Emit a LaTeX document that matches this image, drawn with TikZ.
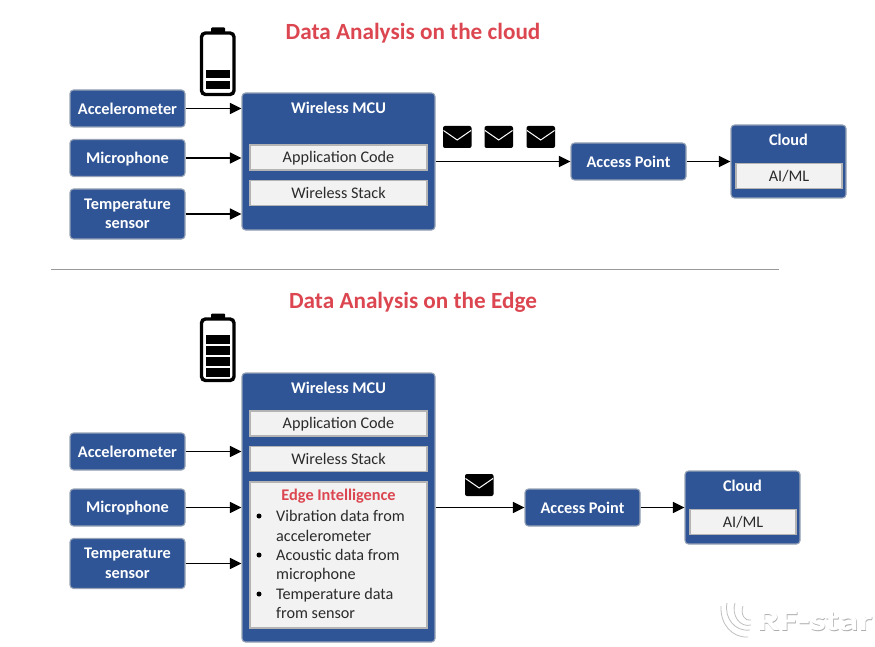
\documentclass[tikz,border=0pt]{standalone}
\usepackage{fontspec}
\setmainfont{Carlito}
\usetikzlibrary{arrows.meta}
\definecolor{boxblue}{HTML}{2F5597}
\definecolor{boxedge}{HTML}{97A3B5}
\definecolor{lightfill}{HTML}{F2F2F2}
\definecolor{lightedge}{HTML}{B4B4B4}
\definecolor{titlered}{HTML}{DC4650}
\definecolor{inktext}{HTML}{2B2B2B}
\newcommand{\lowerit}{\rule{0pt}{13pt}}
\tikzset{
  x=1pt,y=-1pt,
  bluebox/.style={draw=boxedge,line width=1.1pt,fill=boxblue,rounded corners=3.5pt,inner sep=0pt,text=white,font=\fontsize{16.3}{20}\selectfont\bfseries,align=center},
  lightbox/.style={draw=lightedge,line width=1.2pt,fill=lightfill,inner sep=0pt,text=inktext,font=\fontsize{16.2}{20}\selectfont,align=center},
  boxtitle/.style={text=white,font=\fontsize{16.3}{20}\selectfont\bfseries,inner sep=0pt},
  arr/.style={draw=black,line width=1.4pt,-{Triangle[length=11.5pt,width=11pt]}},
  headline/.style={text=titlered,font=\fontsize{23.2}{26}\selectfont\bfseries,inner sep=0pt},
  listline/.style={text=inktext,font=\fontsize{16.2}{20}\selectfont,inner sep=0pt,anchor=west},
  dotmark/.style={circle,fill=black,inner sep=0pt,minimum size=5pt},
}
\newcommand{\envel}[2]{%
  \fill[black,rounded corners=2pt] (#1,#2) rectangle ++(28.5,22);
  \draw[white,line width=1pt] (#1+0.5,#2+4.5) -- (#1+14.2,#2+14) -- (#1+28,#2+4.5);
}
\newcommand{\batt}[1]{%
  \fill[black,rounded corners=1pt] (211,#1-5.5) rectangle (225,#1+2);
  \draw[black,line width=3.4pt,rounded corners=4pt,fill=white] (201.5,#1) rectangle (234,#1+61.5);
}
\begin{document}
\begin{tikzpicture}
\useasboundingbox (0,0) rectangle (875,647);

% top titles
\node[headline] (t1) at (413,33) {Data Analysis on the cloud};
\node[headline] (t2) at (413,302) {Data Analysis on the Edge};
\coordinate (ruleL) at (51,269.5);
\coordinate (ruleR) at (779,269.5);
\draw[color=black!40,line width=1.2pt] (ruleL) -- (ruleR);

% top battery
\batt{33}
\fill[black] (206,70) rectangle (230,78.5);
\fill[black] (206,81) rectangle (230,89.5);

% top diagram
\node[bluebox,minimum width=115,minimum height=37] (acc1) at (127.5,108.5) {Accelerometer};
\node[bluebox,minimum width=115,minimum height=37] (mic1) at (127.5,158) {\lowerit Microphone};
\node[bluebox,minimum width=115,minimum height=50] (tmp1) at (127.5,214) {Temperature\\[-0.5pt]sensor};
\node[bluebox,minimum width=193,minimum height=137] (mcu1) at (338.5,161.5) {};
\node[boxtitle] (mcu1t) at (338.5,107.5) {Wireless MCU};
\node[lightbox,minimum width=177,minimum height=25] (app1) at (338.5,157.5) {\lowerit Application Code};
\node[lightbox,minimum width=177,minimum height=25] (stk1) at (338.5,193) {Wireless Stack};
\node[bluebox,minimum width=115,minimum height=37] (ap1) at (628.5,161.5) {Access Point};
\node[bluebox,minimum width=115,minimum height=73] (cl1) at (788.5,161.5) {};
\node[boxtitle] (cl1t) at (788.5,139.5) {Cloud};
\node[lightbox,minimum width=106,minimum height=25] (ai1) at (789,176) {AI/ML};
\envel{443}{126}
\envel{484.5}{126}
\envel{526.5}{126}
\draw[arr] (acc1.east) -- (acc1.east -| mcu1.west);
\draw[arr] (mic1.east) -- (mic1.east -| mcu1.west);
\draw[arr] (tmp1.east) -- (tmp1.east -| mcu1.west);
\draw[arr] (ap1.west -| mcu1.east) -- (ap1.west);
\draw[arr] (ap1.east) -- (ap1.east -| cl1.west);

% bottom battery
\batt{319}
\fill[black] (206,335) rectangle (230,343.5);
\fill[black] (206,346) rectangle (230,354.5);
\fill[black] (206,357) rectangle (230,365.5);
\fill[black] (206,368) rectangle (230,376.5);

% bottom diagram
\node[bluebox,minimum width=115,minimum height=37] (acc2) at (127.5,451.5) {Accelerometer};
\node[bluebox,minimum width=115,minimum height=37] (mic2) at (127.5,507.5) {\lowerit Microphone};
\node[bluebox,minimum width=115,minimum height=50] (tmp2) at (127.5,563.5) {Temperature\\[-0.5pt]sensor};
\node[bluebox,minimum width=193,minimum height=269] (mcu2) at (338.5,507.5) {};
\node[boxtitle] (mcu2t) at (338.5,387.5) {Wireless MCU};
\node[lightbox,minimum width=177,minimum height=25] (app2) at (338.5,423.5) {\lowerit Application Code};
\node[lightbox,minimum width=177,minimum height=25] (stk2) at (338.5,459) {Wireless Stack};
\node[lightbox,minimum width=177,minimum height=146] (edge) at (338.5,555) {};
\node[text=titlered,font=\fontsize{16.3}{20}\selectfont\bfseries,inner sep=0pt] (edget) at (338.5,496) {Edge Intelligence};
\node[dotmark] (d1) at (259,516) {};
\node[listline] (l1) at (276,516) {Vibration data from};
\node[listline] (l2) at (276,535.5) {accelerometer};
\node[dotmark] (d2) at (259,555) {};
\node[listline] (l3) at (276,555) {Acoustic data from};
\node[listline] (l4) at (276,574.5) {\lowerit microphone};
\node[dotmark] (d3) at (259,594) {};
\node[listline] (l5) at (276,594) {\lowerit Temperature data};
\node[listline] (l6) at (276,613.5) {from sensor};
\node[bluebox,minimum width=115,minimum height=37] (ap2) at (582.5,507.5) {Access Point};
\node[bluebox,minimum width=115,minimum height=73] (cl2) at (742.5,507.5) {};
\node[boxtitle] (cl2t) at (742.5,486) {Cloud};
\node[lightbox,minimum width=106,minimum height=25] (ai2) at (743,522) {AI/ML};
\envel{465}{474}
\draw[arr] (acc2.east) -- (acc2.east -| mcu2.west);
\draw[arr] (mic2.east) -- (mic2.east -| mcu2.west);
\draw[arr] (tmp2.east) -- (tmp2.east -| mcu2.west);
\draw[arr] (ap2.west -| mcu2.east) -- (ap2.west);
\draw[arr] (ap2.east) -- (ap2.east -| cl2.west);

% watermark
\begin{scope}[color=black!25,line width=0.8pt]
  \draw (721,606) .. controls (720,624) and (732,638) .. (748,637);
  \draw (727,603) .. controls (724,618) and (735,632) .. (750,630);
  \draw (735,603) .. controls (731,615) and (740,628) .. (751,625);
  \draw (743,606) .. controls (740,614) and (745,622) .. (751,620);
\end{scope}
\node[text=black!32,font=\fontsize{29}{30}\selectfont\bfseries,inner sep=0pt,anchor=west,xscale=1.37] (wm0) at (757.7,621.7) {RF-star};
\node[text=white,font=\fontsize{29}{30}\selectfont\bfseries,inner sep=0pt,anchor=west,xscale=1.37] (wm) at (757,621) {RF-star};
\end{tikzpicture}
\end{document}
